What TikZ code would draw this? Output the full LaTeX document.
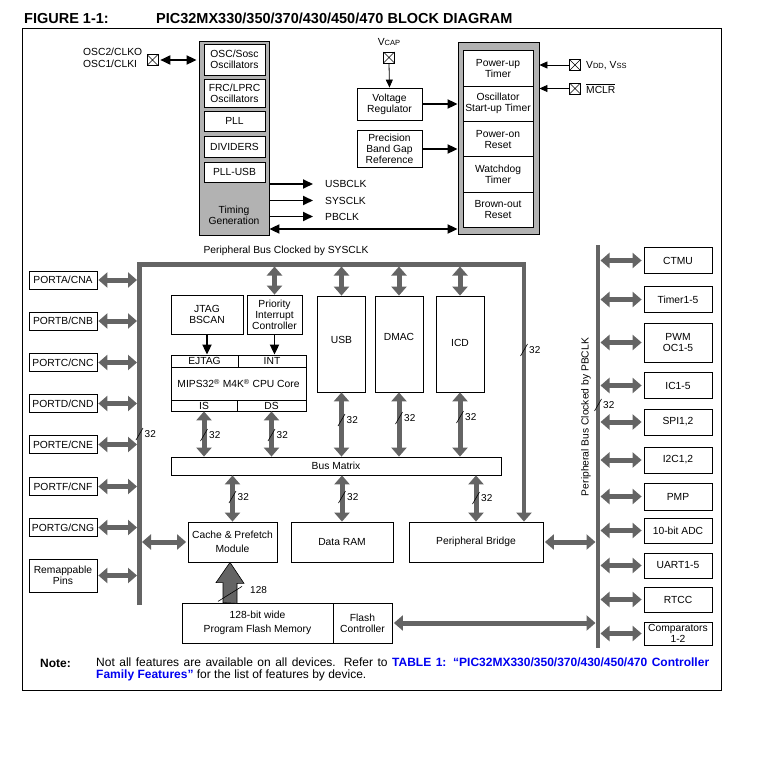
\documentclass[tikz,border=0pt]{standalone}
\usepackage{fontspec}
\setmainfont{Liberation Sans}
\usetikzlibrary{positioning,calc,arrows.meta}
\definecolor{busgray}{RGB}{100,100,100}
\definecolor{boxgray}{RGB}{178,178,178}
\definecolor{linkblue}{RGB}{0,0,240}

\begin{document}
\begin{tikzpicture}[x=1pt,y=-1pt,
    blk/.style={rectangle,draw,line width=0.8pt,fill=white,align=center,inner sep=0pt,font=\fontsize{10.3}{11}\selectfont},
    grp/.style={rectangle,draw,line width=0.8pt,fill=boxgray},
    lbl/.style={inner sep=0pt,font=\fontsize{10.3}{11}\selectfont},
    wlbl/.style={inner sep=0pt,anchor=west,font=\fontsize{10}{10}\selectfont},
    xpin/.style={rectangle,draw,line width=0.6pt,minimum size=11pt,inner sep=0pt,
        path picture={\draw[line width=0.5pt] (path picture bounding box.south west) -- (path picture bounding box.north east)
            (path picture bounding box.north west) -- (path picture bounding box.south east);}},
    bus/.style={draw=busgray,line width=4.5pt},
    dbl/.style={draw=busgray,line width=5pt,{Triangle[length=9pt,width=15pt]}-{Triangle[length=9pt,width=15pt]}},
    sig/.style={draw,line width=1.8pt,-{Triangle[length=10pt,width=9pt]}},
    sigd/.style={sig,{Triangle[length=10pt,width=9pt]}-{Triangle[length=10pt,width=9pt]}},
    fine/.style={draw,line width=0.8pt,-{Triangle[length=8pt,width=7pt]}}]
\useasboundingbox (0,0) rectangle (759,760);

% Title and frame
\node[font=\fontsize{14.5}{14.5}\selectfont\bfseries,anchor=west,inner sep=0pt] (fig) at (24,18.5) {FIGURE 1-1:};
\node[font=\fontsize{14.5}{14.5}\selectfont\bfseries,anchor=west,inner sep=0pt] (ttl) at (156,18.5) {PIC32MX330/350/370/430/450/470 BLOCK DIAGRAM};
\node[draw,line width=0.8pt,minimum width=699pt,minimum height=662pt,inner sep=0pt] (frame) at (371.5,359) {};

% Clock block
\node[xpin] (xosc) at (152.5,60) {};
\node[lbl,align=left,anchor=west,font=\fontsize{10.3}{12.5}\selectfont] (osct) at (83,58) {OSC2/CLKO\\OSC1/CLKI};
\node[grp,minimum width=70pt,minimum height=194pt] (clk) at (234,138) {};
\node[blk,minimum width=61pt,minimum height=31pt] (osc) at (234.5,59.5) {OSC/Sosc\\Oscillators};
\node[blk,minimum width=61pt,minimum height=28pt] (frc) at (234.5,93) {FRC/LPRC\\Oscillators};
\node[blk,minimum width=61pt,minimum height=20pt] (pll) at (234.5,121) {PLL};
\node[blk,minimum width=61pt,minimum height=21pt] (div) at (234.5,146.5) {DIVIDERS};
\node[blk,minimum width=61pt,minimum height=20pt] (pllusb) at (234.5,172) {PLL-USB};
\node[lbl,align=center] (tgen) at (234,215) {Timing\\Generation};
\draw[sigd,shorten <=2pt,shorten >=2pt] (xosc.east) -- (xosc.east -| clk.west);

\node[lbl,anchor=west] (usbclk) at (325,184) {USBCLK};
\node[lbl,anchor=west] (sysclk) at (325,200.5) {SYSCLK};
\node[lbl,anchor=west] (pbclk) at (325,216.5) {PBCLK};
\foreach \s in {usbclk,sysclk,pbclk}
    \draw[sig] (clk.east |- \s.west) -- ([xshift=-12pt]\s.west);

% Reset block
\node[grp,minimum width=81pt,minimum height=192pt] (rst) at (498.5,138) {};
\foreach \nm/\t [count=\k] in {pwrt/{Power-up\\Timer},ost/{Oscillator\\Start-up Timer},por/{Power-on\\Reset},wdt/{Watchdog\\Timer},bor/{Brown-out\\Reset}}
    \node[blk,minimum width=70pt,minimum height=35.3pt] (\nm) at (498,33.2+35.3*\k) {\t};

\node[lbl] (vcapt) at (389,42) {V{\fontsize{7.5}{8}\selectfont CAP}};
\node[xpin] (xvcap) at (389,57.5) {};
\node[blk,minimum width=65pt,minimum height=32pt] (vreg) at (389.5,104) {Voltage\\Regulator};
\node[blk,minimum width=65pt,minimum height=37pt] (bgap) at (389.5,149) {Precision\\Band Gap\\Reference};
\draw[fine] (xvcap.south) -- (vreg.north);
\draw[sig] (vreg.east) -- (vreg.east -| rst.west);
\draw[sig] (bgap.east) -- (bgap.east -| rst.west);

\node[xpin] (xvdd) at (575,65) {};
\node[xpin] (xmclr) at (575,88.5) {};
\node[lbl,anchor=west] (vddt) at (586,65.5) {V{\fontsize{7.5}{8}\selectfont DD}, V{\fontsize{7.5}{8}\selectfont SS}};
\node[lbl,anchor=west] (mclrt) at (586,88.5) {$\overline{\mbox{MCLR}}$};
\draw[fine] (xvdd.west) -- (xvdd.west -| rst.east);
\draw[fine] (xmclr.west) -- (xmclr.west -| rst.east);

\coordinate (tlink) at (300,229);
\draw[sigd] (clk.east |- tlink) -- (rst.west |- tlink);

% CPU and masters
\node[blk,minimum width=72pt,minimum height=39pt] (jtag) at (207,314.5) {JTAG\\BSCAN};
\node[blk,minimum width=55pt,minimum height=39pt] (pic) at (274.5,314.5) {Priority\\Interrupt\\Controller};
\node[blk,minimum width=67pt,minimum height=12pt] (ejtag) at (204.5,361) {EJTAG};
\node[blk,minimum width=68pt,minimum height=12pt] (int) at (272,361) {INT};
\node[blk,minimum width=135pt,minimum height=33pt] (core) at (238.5,383.5) {MIPS32\textsuperscript{®} M4K\textsuperscript{®} CPU Core};
\node[blk,minimum width=66pt,minimum height=11pt] (is) at (204,405.5) {IS};
\node[blk,minimum width=69pt,minimum height=11pt] (ds) at (271.5,405.5) {DS};
\draw[sig] (jtag.south) -- (jtag.south |- ejtag.north);
\draw[sig] (pic.south) -- (pic.south |- int.north);

\foreach \nm/\x/\t/\dy in {usb/341.5/USB/4,dmac/399/DMAC/7,icd/460/ICD/1} {
    \node[blk,minimum width=48pt,minimum height=96pt] (\nm) at (\x,344) {};
    \node[lbl] (\nm t) at (\x,344-\dy) {\t};
}

\node[blk,minimum width=330pt,minimum height=18pt] (bm) at (336,466) {Bus Matrix};
\node[blk,minimum width=89pt,minimum height=40pt] (cache) at (232.5,542) {Cache \& Prefetch\\[3pt]Module};
\node[blk,minimum width=102pt,minimum height=40pt] (dram) at (342,542) {Data RAM};
\node[blk,minimum width=134pt,minimum height=40pt] (brg) at (476,542) {Peripheral Bridge};
\node[blk,minimum width=151pt,minimum height=40pt] (pfm) at (257.5,623) {128-bit wide\\[3pt]Program Flash Memory};
\node[blk,minimum width=59pt,minimum height=40pt] (fc) at (362.5,623) {Flash\\Controller};

% System bus
\node[lbl] (sysbus) at (286,250.5) {Peripheral Bus Clocked by SYSCLK};
\coordinate (lbot) at (139.5,605);
\coordinate (ltop) at (139.5,264.5);
\coordinate (rtop) at (524,264.5);
\draw[bus,-{Triangle[length=9pt,width=15pt]}] (lbot) -- (ltop) -- (rtop) -- (rtop |- brg.north);
\foreach \b in {pic,usb,dmac,icd}
    \draw[dbl,shorten <=2pt] (\b.north |- rtop) -- (\b.north);
\foreach \b in {is,ds,usb,dmac,icd}
    \draw[dbl] (\b.south) -- (\b.south |- bm.north);
\foreach \b in {cache,dram,brg}
    \draw[dbl] (\b.north |- bm.south) -- (\b.north);
\draw[dbl,shorten <=2.5pt,shorten >=1.5pt] (cache.west -| ltop) -- (cache.west);

% Ports
\foreach \p/\y in {A/280,B/321,C/362.5,D/403.5,E/444.5,F/486.5,G/527.5} {
    \node[blk,minimum width=68pt,minimum height=18pt] (port\p) at (63,\y) {PORT\p/CN\p};
    \draw[dbl,shorten <=1pt,shorten >=2.5pt] (port\p.east) -- (port\p.east -| ltop);
}
\node[blk,minimum width=68pt,minimum height=33pt] (remap) at (63,575.5) {Remappable\\Pins};
\draw[dbl,shorten <=1pt,shorten >=2.5pt] (remap.east) -- (remap.east -| ltop);

% Peripheral bus
\coordinate (pbtop) at (598,245);
\coordinate (pbbot) at (598,648);
\draw[bus] (pbtop) -- (pbbot);
\node[lbl,rotate=90] (pbt) at (586,417) {Peripheral Bus Clocked by PBCLK};
\foreach \nm/\t/\y/\h in {ctmu/CTMU/260.5/26,tmr/Timer1-5/299.5/26,pwm/{PWM\\OC1-5}/342.5/39,ic/IC1-5/385.5/26,spi/{SPI1,2}/422/26,iic/{I2C1,2}/460/26,pmp/PMP/496.5/27,adc/10-bit ADC/530.5/25,uart/UART1-5/565.5/25,rtcc/RTCC/599.5/25,cmp/{Comparators\\1-2}/633.5/23} {
    \node[blk,minimum width=68pt,minimum height=\h pt] (\nm) at (678,\y) {\t};
    \draw[dbl,shorten <=2.5pt,shorten >=2pt] (\nm.west -| pbtop) -- (\nm.west);
}
\draw[dbl,shorten <=1.5pt,shorten >=2.5pt] (brg.east) -- (brg.east -| pbtop);
\draw[dbl,shorten <=1.5pt,shorten >=2.5pt] (fc.east) -- (fc.east -| pbtop);

% Flash to cache, 128 bits
\coordinate (fa) at ([xshift=-2.5pt]cache.south);
\draw[fill=busgray,line width=0.6pt] (fa |- pfm.north) ++(-7,0) -- ++(0,-20) -- ++(-7,0) -- (fa) -- ++(14,21) -- ++(-7,0) -- ++(0,20) -- cycle;
\draw[line width=0.6pt] ($(fa)+(-12,39)$) -- ($(fa)+(12,24)$);
\node[wlbl] (w128) at ($(fa)+(20,28)$) {128};

% Bus widths
\foreach \x/\y [count=\k] in {139.5/434,204/435,271.5/435,341.5/420,399/418,460/417,232.5/497,342/497,476/498,524/350,598/405} {
    \draw[line width=0.6pt] (\x-3.5,\y+6) -- (\x+3.5,\y-6);
    \node[wlbl] (w\k) at (\x+5,\y) {32};
}

% Note
\node[font=\fontsize{12}{12}\selectfont\bfseries,anchor=west,inner sep=0pt] (note) at (40,663) {Note:};
\node[font=\fontsize{12}{12}\selectfont,anchor=north west,text width=613pt,align=justify,inner sep=0pt] (notet) at (96,658)
    {Not all features are available on all devices. Refer to \textcolor{linkblue}{\bfseries TABLE 1: “PIC32MX330/350/370/430/450/470 Controller Family Features”} for the list of features by device.};

\end{tikzpicture}
\end{document}
